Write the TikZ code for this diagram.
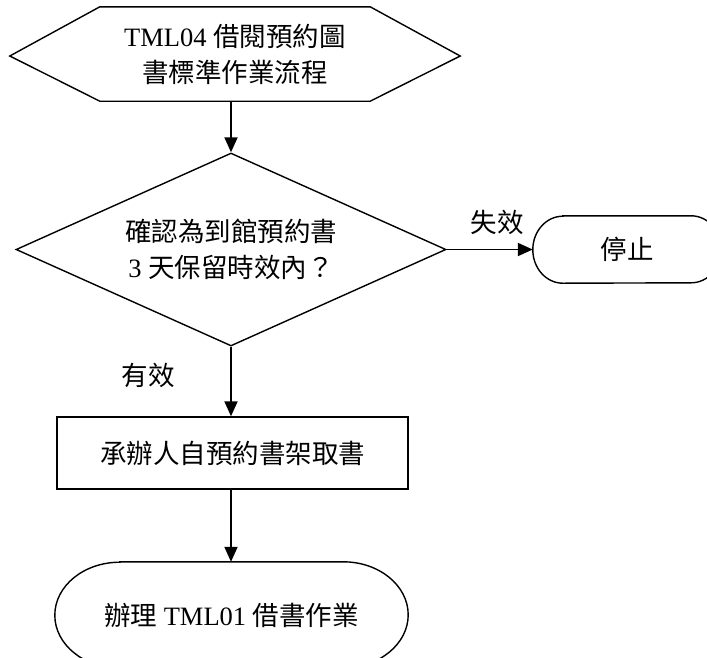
\documentclass[tikz,border=0pt]{standalone}
\usepackage{fontspec}
\setmainfont{Liberation Serif}
\newfontfamily\cjk{Noto Sans CJK TC}
\usetikzlibrary{shapes.geometric,arrows.meta}
\newcommand\zh[1]{{\cjk #1}}

\begin{document}
\begin{tikzpicture}[x=1pt,y=-1pt,
  every node/.style={font=\fontsize{26.5}{36}\selectfont, align=center, inner sep=0pt},
  outline/.style={draw, line width=1.4pt},
  flow/.style={line width=1.9pt, -{Triangle[length=15pt,width=13pt]}}]
\useasboundingbox (0,0) rectangle (707,657);
\clip (0,0) rectangle (707,657);

% start: hexagonal title
\node[minimum width=270pt, minimum height=90pt] (start) at (235,54)
  {TML04 \zh{借閱預約圖}\\\zh{書標準作業流程}};
\draw[outline] ([yshift=2pt]start.north west) -- ([yshift=2pt]start.north east) -- ([xshift=90pt,yshift=-2pt]start.east)
  -- ([yshift=-2pt]start.south east) -- ([yshift=-2pt]start.south west) -- ([xshift=-90pt,yshift=-2pt]start.west) -- cycle;

% decision
\node[diamond, outline, shape aspect=2.23, minimum width=430pt, minimum height=193pt] (check) at (231,249.5)
  {\zh{確認為到館預約書}\\3 \zh{天保留時效內？}};

% stop terminator
\node[minimum width=188pt, minimum height=67pt] (stop) at (627,249.5) {\zh{停止}};
\draw[outline] ([xshift=30pt]stop.north west) -- ([xshift=-30pt]stop.north east)
  arc[start angle=90, end angle=-90, x radius=30pt, y radius=33.5pt]
  -- ([xshift=30pt]stop.south west)
  arc[start angle=270, end angle=90, x radius=30pt, y radius=33.5pt] -- cycle;

% process box
\node[rectangle, outline, minimum width=351pt, minimum height=72pt] (fetch) at (232.5,453)
  {\zh{承辦人自預約書架取書}};

% end terminator
\node[minimum width=353pt, minimum height=106pt] (done) at (231.5,615)
  {\zh{辦理} TML01 \zh{借書作業}};
\draw[outline] ([xshift=65pt]done.north west) -- ([xshift=-65pt]done.north east)
  arc[start angle=90, end angle=-90, x radius=65pt, y radius=53pt]
  -- ([xshift=65pt]done.south west)
  arc[start angle=270, end angle=90, x radius=65pt, y radius=53pt] -- cycle;

% connectors
\draw[flow] ([yshift=-2pt]start.south -| check.north) -- (check.north);
\draw[flow] (check.east) -- (stop.west);
\draw[flow] (check.south) -- (check.south |- fetch.north);
\draw[flow] (check.south |- fetch.south) -- (check.south |- done.north);

% branch labels
\node (lfail) at (497,222) {\zh{失效}};
\node (lok) at (148,375) {\zh{有效}};
\end{tikzpicture}
\end{document}
